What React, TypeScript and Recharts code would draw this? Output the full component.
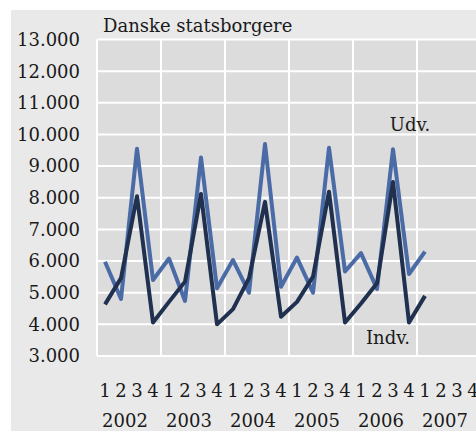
import React from 'react';
import { LineChart, Line, XAxis, YAxis, CartesianGrid, ReferenceLine, ReferenceDot } from 'recharts';

const years = ['2002', '2003', '2004', '2005', '2006', '2007'];
const quarters = ['1', '2', '3', '4'];

// 2002 K1 .. 2007 K1
const udv = [
  5980, 4800, 9550, 5400,
  6080, 4740, 9270, 5140,
  6030, 5000, 9700, 5190,
  6110, 5000, 9580, 5670,
  6250, 5120, 9530, 5590,
  6300,
];
const indv = [
  4630, 5460, 8050, 4060,
  4710, 5350, 8120, 4000,
  4480, 5460, 7870, 4240,
  4710, 5510, 8190, 4060,
  4660, 5300, 8500, 4060,
  4900,
];

const yTicks = [3000, 4000, 5000, 6000, 7000, 8000, 9000, 10000, 11000, 12000, 13000];

const FONT = '"DejaVu Serif", serif';

const data = years.flatMap((year, yi) =>
  quarters.map((q, qi) => {
    const i = yi * 4 + qi;
    return {
      key: `${year}-${q}`,
      q,
      year,
      udv: i < udv.length ? udv[i] : null,
      indv: i < indv.length ? indv[i] : null,
    };
  })
);

const QuarterTick = (props: any) => {
  const { x, y, index } = props;
  const row = data[index];
  if (!row) return null;
  return (
    <g>
      <text x={x} y={y + 41} textAnchor="middle" fontSize={18} fontFamily={FONT} fill="#1a1a1a">
        {row.q}
      </text>
      {index % 4 === 1 && (
        <text x={x + 4} y={y + 71} textAnchor="middle" fontSize={18} fontFamily={FONT} fill="#1a1a1a">
          {row.year}
        </text>
      )}
    </g>
  );
};

const TagLabel = ({ viewBox, value, dx }: any) => (
  <text
    x={viewBox.x + (dx || 0)}
    y={viewBox.y}
    textAnchor="middle"
    dominantBaseline="central"
    fontSize={18}
    fontFamily={FONT}
    fill="#1a1a1a"
  >
    {value}
  </text>
);

export default function App() {
  return (
    <div style={{ position: 'absolute', left: 11, top: 10, width: 465, height: 421, background: '#e9e9e9' }}>
      <LineChart width={465} height={421} data={data} margin={{ top: 29.5, right: -5, bottom: 0, left: 0 }}>
        <CartesianGrid vertical={false} stroke="#ffffff" strokeWidth={2} fill="#dcdcdc" fillOpacity={1} />
        {years.map((y) => (
          <ReferenceLine key={y} x={`${y}-1`} position="start" stroke="#ffffff" strokeWidth={2} />
        ))}
        <XAxis
          dataKey="key"
          scale="band"
          axisLine={false}
          tickLine={false}
          tickSize={0}
          tickMargin={0}
          height={75}
          interval={0}
          tick={<QuarterTick />}
        />
        <YAxis
          domain={[3000, 13000]}
          ticks={yTicks}
          interval={0}
          axisLine={false}
          tickLine={false}
          tickSize={0}
          tickMargin={17}
          width={86}
          tickFormatter={(v: number) => `${v / 1000}.000`}
          tick={{ fontSize: 18, fontFamily: FONT, fill: '#1a1a1a' }}
        />
        <Line
          type="linear"
          dataKey="udv"
          stroke="#4a6ba6"
          strokeWidth={4}
          strokeLinejoin="round"
          dot={false}
          isAnimationActive={false}
        />
        <Line
          type="linear"
          dataKey="indv"
          stroke="#20304f"
          strokeWidth={4}
          strokeLinejoin="round"
          dot={false}
          isAnimationActive={false}
        />
        <ReferenceDot x="2006-4" y={10300} r={0} label={<TagLabel value="Udv." dx={1} />} />
        <ReferenceDot x="2006-3" y={3570} r={0} label={<TagLabel value="Indv." dx={-5} />} />
        <text x={92} y={22} fontSize={18} fontFamily={FONT} fill="#1a1a1a">
          Danske statsborgere
        </text>
      </LineChart>
    </div>
  );
}
